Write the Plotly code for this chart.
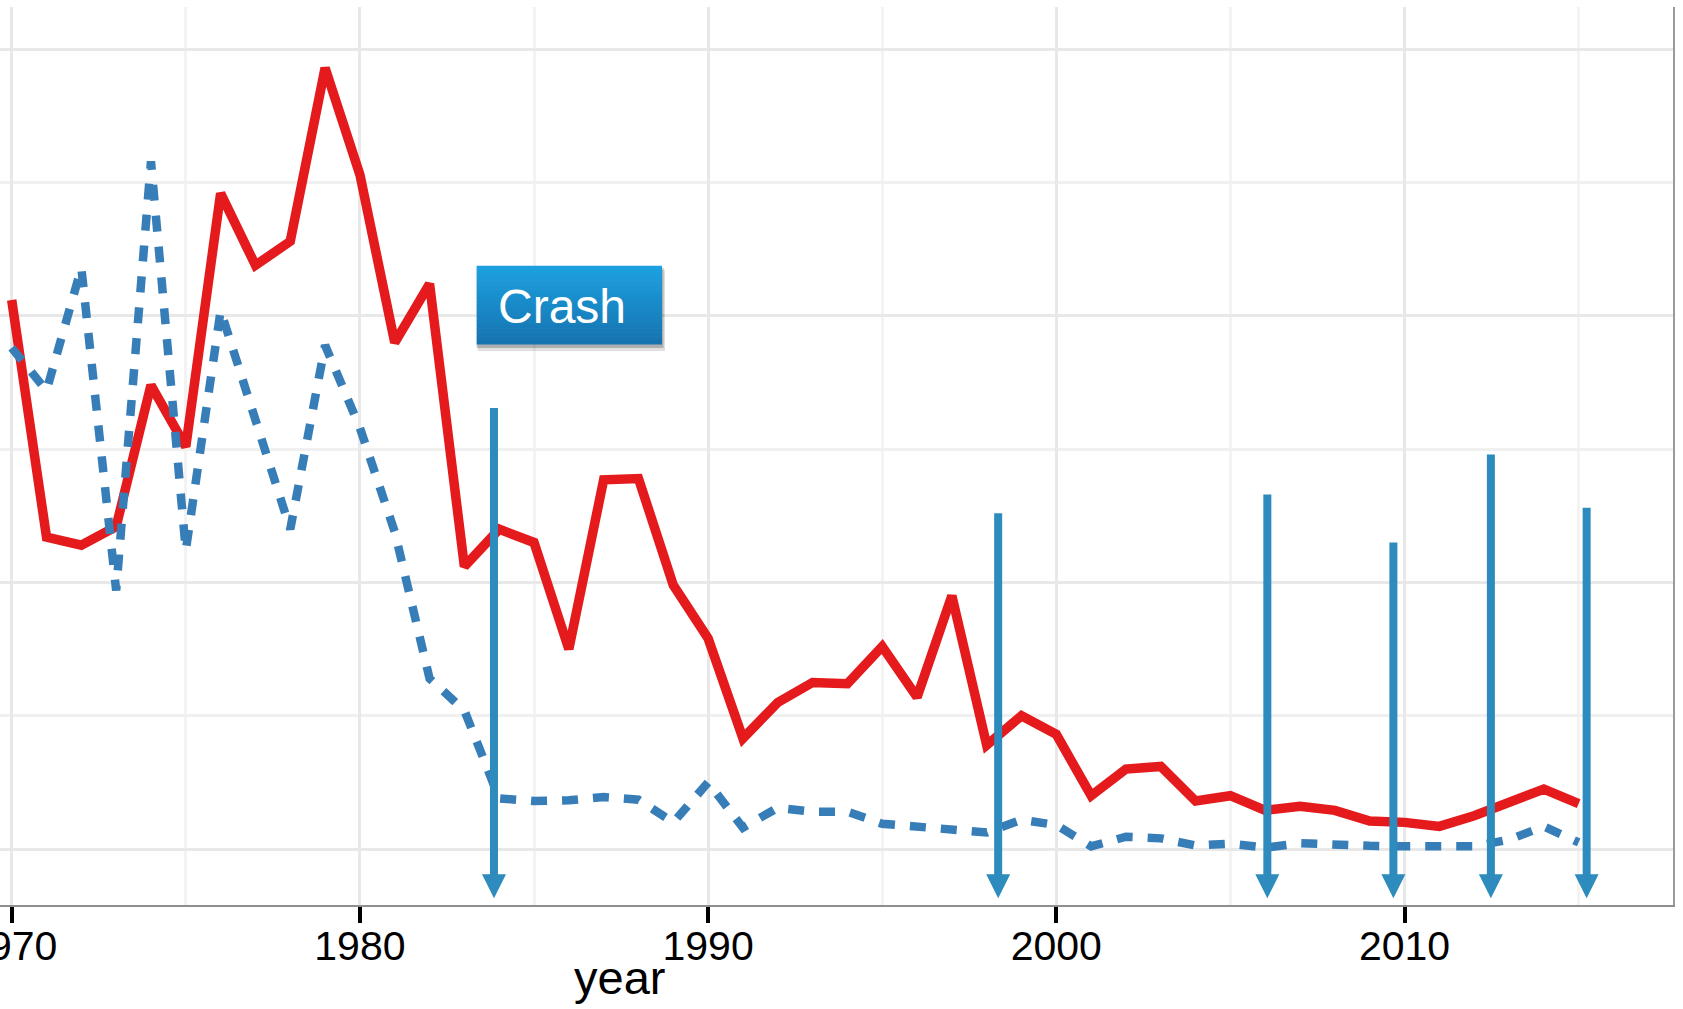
import plotly.graph_objects as go

# ---------------- data ----------------
years = list(range(1970, 2016))
red_series = [2.06, 1.17, 1.14, 1.21, 1.74, 1.51, 2.46, 2.19, 2.28, 2.93,
              2.53, 1.90, 2.12, 1.06, 1.20, 1.15, 0.75, 1.385, 1.39, 0.99,
              0.79, 0.415, 0.55, 0.625, 0.62, 0.76, 0.57, 0.95, 0.39, 0.50,
              0.43, 0.20, 0.30, 0.31, 0.18, 0.20, 0.145, 0.16, 0.145, 0.105,
              0.10, 0.085, 0.125, 0.175, 0.225, 0.17]
blue_series = [1.88, 1.72, 2.18, 0.97, 2.58, 1.12, 2.02, 1.62, 1.20, 1.89,
               1.58, 1.19, 0.64, 0.52, 0.19, 0.18, 0.183, 0.195, 0.185, 0.10,
               0.25, 0.08, 0.155, 0.14, 0.14, 0.095, 0.085, 0.075, 0.062, 0.11,
               0.09, 0.01, 0.046, 0.04, 0.013, 0.02, 0.005, 0.022, 0.015, 0.012,
               0.01, 0.008, 0.01, 0.035, 0.085, 0.025]
crash_years = [1983.85, 1998.33, 2006.06, 2009.68, 2012.48, 2015.23]
crash_tops = [1.655, 1.26, 1.33, 1.15, 1.48, 1.28]
arrow_base = -0.14
arrow_tip = -0.185
x_tickvals = [1970, 1980, 1990, 2000, 2010]
x_minor = [1975, 1985, 1995, 2005, 2015]
y_tickvals = [0, 1, 2, 3]
y_minor = [0.5, 1.5, 2.5]
label_text = "Crash"
x_title = "year"

# ---------------- layout constants ----------------
W, H = 1683, 1009
ML, MR, MT, MB = 0, 10, 7, 104
PW, PH = W - ML - MR, H - MT - MB

def px(xp):
    return (xp - ML) / PW

def py(yp):
    return (H - MB - yp) / PH

RED = "#e41a1c"
BLUE = "#377eb8"
ARROW = "#2d8bbd"
FONT = "Liberation Sans, Arial, Helvetica, sans-serif"

fig = go.Figure()

fig.add_trace(go.Scatter(x=years, y=red_series, mode="lines",
                         line=dict(color=RED, width=9.5), hoverinfo="skip",
                         showlegend=False))
fig.add_trace(go.Scatter(x=years, y=blue_series, mode="lines",
                         line=dict(color=BLUE, width=8.5, dash="16px,15px"),
                         hoverinfo="skip", showlegend=False))

# arrows: shafts + heads
ax_, ay_ = [], []
for xv, top in zip(crash_years, crash_tops):
    ax_ += [xv, xv, None]
    ay_ += [top, arrow_base, None]
fig.add_trace(go.Scatter(x=ax_, y=ay_, mode="lines",
                         line=dict(color=ARROW, width=8), hoverinfo="skip",
                         showlegend=False))
fig.add_trace(go.Scatter(x=crash_years, y=[arrow_tip] * len(crash_years),
                         mode="markers",
                         marker=dict(symbol="arrow-down", size=24, color=ARROW,
                                     line=dict(width=0)),
                         hoverinfo="skip", showlegend=False))

# ---------------- "Crash" box (gradient via bands) ----------------
shapes = []
bx0, bx1, by0, by1 = 476.7, 662, 265.7, 344
shapes.append(dict(type="rect", xref="paper", yref="paper", layer="above",
                   x0=px(bx0 + 1), x1=px(bx1 + 3), y0=py(by0 + 4), y1=py(by1 + 7),
                   fillcolor="rgba(0,0,0,0.12)", line=dict(width=0)))
shapes.append(dict(type="rect", xref="paper", yref="paper", layer="above",
                   x0=px(bx0), x1=px(bx1 + 1.5), y0=py(by0 + 2), y1=py(by1 + 4),
                   fillcolor="rgba(0,0,0,0.22)", line=dict(width=0)))
top_c = (28, 160, 224)
bot_c = (21, 116, 176)
nb = 20
for i in range(nb):
    t = i / (nb - 1)
    c = tuple(round(top_c[k] + (bot_c[k] - top_c[k]) * t) for k in range(3))
    y0 = by0 + (by1 - by0) * i / nb
    y1 = by0 + (by1 - by0) * (i + 1) / nb
    shapes.append(dict(type="rect", xref="paper", yref="paper", layer="above",
                       x0=px(bx0), x1=px(bx1), y0=py(y1 + 0.5), y1=py(y0),
                       fillcolor="rgb(%d,%d,%d)" % c, line=dict(width=0)))

annotations = [
    dict(text=label_text, xref="paper", yref="paper", x=px(496), y=py(306),
         xanchor="left", yanchor="middle", showarrow=False,
         font=dict(family=FONT, size=48, color="white")),
    dict(text=x_title, xref="paper", yref="paper", x=px(619), y=py(978),
         xanchor="center", yanchor="middle", showarrow=False,
         font=dict(family=FONT, size=47, color="black")),
]

fig.update_layout(
    width=W, height=H,
    margin=dict(l=ML, r=MR, t=MT, b=MB, pad=0),
    paper_bgcolor="white", plot_bgcolor="white",
    shapes=shapes, annotations=annotations,
    showlegend=False,
    xaxis=dict(range=[1969.664, 2017.71], tickvals=x_tickvals,
               ticktext=[str(v) for v in x_tickvals],
               showgrid=True, gridcolor="#e8e8e8", gridwidth=2.5,
               minor=dict(tickvals=x_minor, showgrid=True, gridcolor="#f3f3f3",
                          gridwidth=2.5, ticks=""),
               zeroline=False, showline=True, linecolor="#8f8f8f", linewidth=2,
               ticks="outside", ticklen=16, tickwidth=4, tickcolor="black",
               tickfont=dict(family=FONT, size=41, color="black"),
               ticklabelstandoff=-12, ticklabeloverflow="allow",
               automargin=False, fixedrange=True),
    yaxis=dict(range=[-0.210, 3.159], tickvals=y_tickvals,
               showticklabels=False, ticks="",
               showgrid=True, gridcolor="#e8e8e8", gridwidth=2.5,
               minor=dict(tickvals=y_minor, showgrid=True, gridcolor="#f0f0f0",
                          gridwidth=2.5, ticks=""),
               zeroline=False, showline=True, side="right",
               linecolor="#9a9a9a", linewidth=2, automargin=False,
               fixedrange=True),
)

fig.write_html("out.html", config={"displayModeBar": False},
               post_script="document.body.style.margin='0';document.body.style.overflow='hidden';")
